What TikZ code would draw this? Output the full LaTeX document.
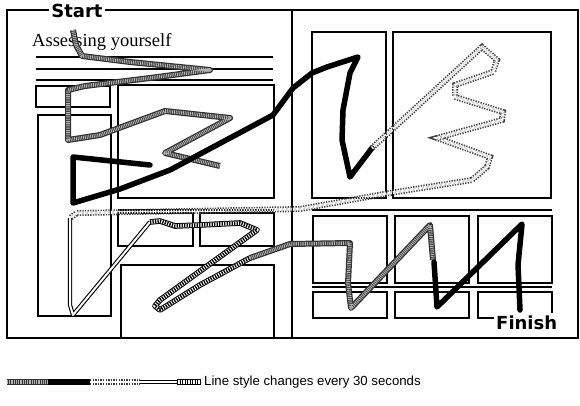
\documentclass[tikz,border=0pt]{standalone}
\usepackage{fontspec}
\usepackage{tikz}
\usetikzlibrary{positioning}
\newfontfamily\dejasans{DejaVu Sans}
\newfontfamily\libsans{Liberation Sans}
\newfontfamily\libserif{Liberation Serif}

\begin{document}
\begin{tikzpicture}[
    x=1pt, y=-1pt,
    frame/.style={draw=black, line width=1.5pt},
    box/.style={draw=black, line width=1.2pt},
    checkline/.style={draw=black!80, line width=6pt, line join=round,
        postaction={draw=gray!60, line width=3.6pt, line cap=butt, dash pattern=on 0.9pt off 0.9pt}},
    blackline/.style={draw=black, line width=5.5pt, line join=round, line cap=round},
    dotline/.style={draw=black!75, line width=1.6pt, double=white, double distance=2.8pt, dash pattern=on 1.3pt off 1.3pt},
    twinline/.style={draw=black, line width=1.1pt, double=white, double distance=2pt, line join=round},
    hatchline/.style={draw=black, line width=1pt, double=white, double distance=3.6pt, line join=round,
        postaction={draw=black, line width=3.6pt, line cap=butt, dash pattern=on 1.3pt off 1.2pt}},
    signtext/.style={font=\dejasans\bfseries\fontsize{18}{20}\selectfont, fill=white, inner sep=2pt}
]
\useasboundingbox (0,0) rectangle (580,405);

% Page frame
\draw[frame] (7,10) rectangle (578,338);
\draw[frame] (292,10) -- (292,338);
\node[signtext, anchor=base] (start) at (77,17) {Start};

% Left page
\node[font=\libserif\fontsize{18.5}{20}\selectfont, anchor=base west, inner sep=0pt] (title) at (32,46) {Assessing yourself};
\draw[box] (36,57) -- (273,57);
\draw[box] (36,69) -- (273,69);
\draw[box] (36,80) -- (273,80);
\draw[box] (36,86) rectangle (110,107);
\draw[box] (38,115) rectangle (111,316);
\draw[box] (118,85) rectangle (274,198);
\draw[box] (118,210) -- (274,210);
\draw[box] (118,213) rectangle (193,246);
\draw[box] (200,213) rectangle (274,246);
\draw[box] (121,338) |- (274,265) -- (274,338);

% Right page
\draw[box] (312,32) rectangle (386,198);
\draw[box] (393,32) rectangle (551,198);
\draw[box] (312,210) -- (552,210);
\foreach \bx in {313,395,478} {
    \draw[box] (\bx,216) rectangle ++(74,67);
    \draw[box] (\bx,292) rectangle ++(74,26);
}
\draw[box, line width=1.8pt] (312,287) -- (552,287);

% Scan path, one style per 30 seconds
\draw[checkline] (73,30) -- (76,45) -- (82,56) -- (130,62) -- (210,70) -- (150,78) -- (85,86) -- (68,90)
    -- (68,140) -- (100,135) -- (165,111) -- (230,118) -- (165,153) -- (220,166);
\draw[blackline] (150,165) -- (73,157) -- (73,203) -- (120,189) -- (170,170) -- (245,130) -- (273,115)
    -- (293,88) -- (312,73) -- (327,67) -- (358,57) -- (350,73) -- (343,110) -- (342,140) -- (350,177) -- (372,148);
\draw[dotline] (372,148) -- (482,47) -- (497,60) -- (493,72) -- (455,85) -- (455,97) -- (503,112) -- (502,120)
    -- (437,138) -- (490,157) -- (487,167) -- (472,180) -- (390,193) -- (300,209) -- (77,213) -- (70,218);
\draw[twinline] (70,218) -- (70,305) -- (73,315) -- (150,222);
\draw[hatchline] (150,222) -- (160,221) -- (175,226) -- (200,225) -- (240,223) -- (257,230) -- (160,300)
    -- (155,306) -- (160,310) -- (200,285) -- (250,258);
\draw[checkline] (250,258) -- (290,244) -- (350,243) -- (348,283) -- (351,308) -- (430,225) -- (433,260);
\draw[blackline] (434,262) -- (437,307) -- (522,224) -- (518,265) -- (520,310);

\node[signtext, anchor=base west] (finish) at (494,329) {Finish};

% Legend
\coordinate (lg0) at (7,382);
\coordinate (lg1) at (48,382);
\coordinate (lg2) at (90,382);
\coordinate (lg3) at (140,382);
\coordinate (lg4) at (177,382);
\coordinate (lg5) at (201,382);
\draw[checkline] (lg0) -- (lg1);
\draw[blackline, line cap=butt] (lg1) -- (lg2);
\draw[dotline] (lg2) -- (lg3);
\draw[twinline] (lg3) -- (lg4);
\draw[hatchline] (lg4) -- (lg5);
\node[font=\libsans\fontsize{13.2}{15}\selectfont, right=3pt of lg5, inner sep=0pt] (legtext) {Line style changes every 30 seconds};
\end{tikzpicture}
\end{document}
